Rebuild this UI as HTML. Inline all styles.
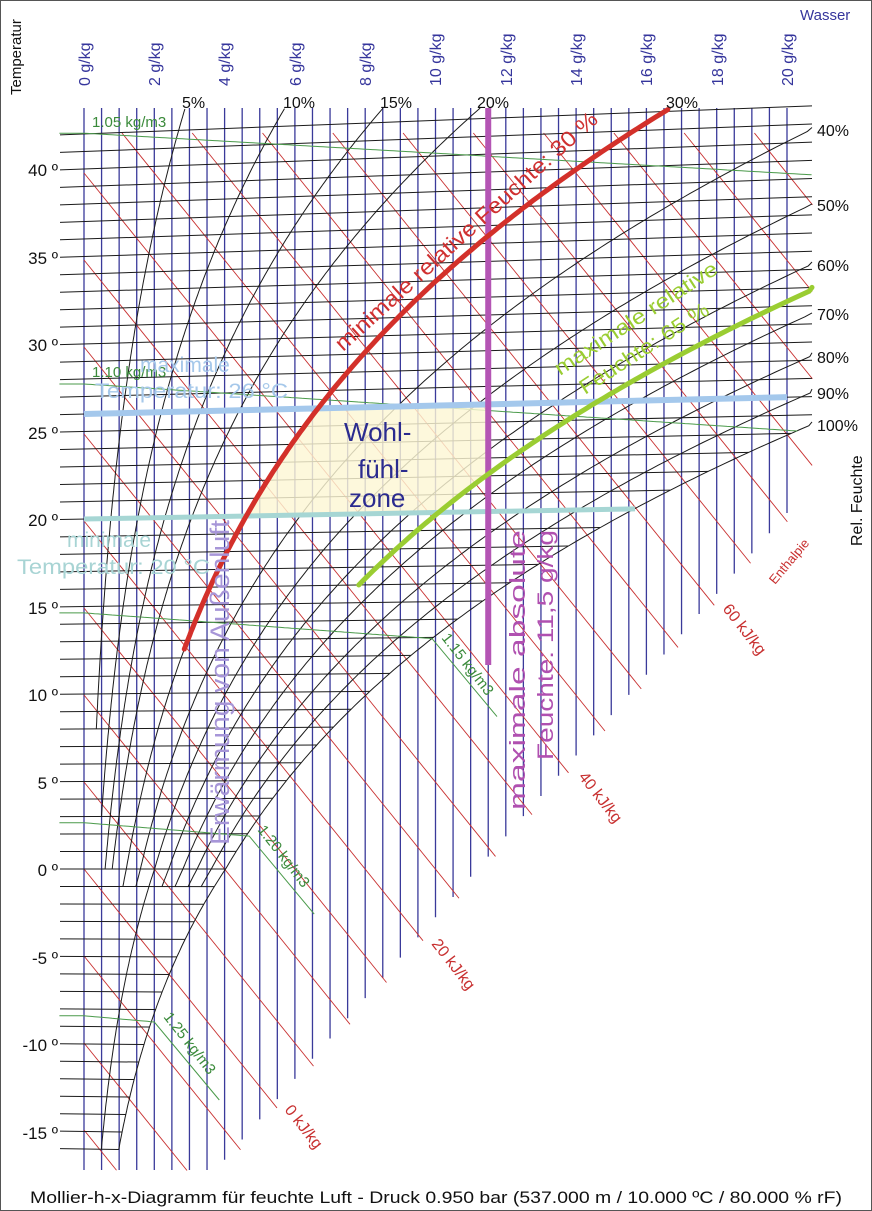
<!DOCTYPE html>
<html><head><meta charset="utf-8"><style>
html,body{margin:0;padding:0;background:#fff;}
svg{display:block;font-family:"Liberation Sans",Arial,sans-serif;}
</style></head><body>
<svg id="s" width="872" height="1211" viewBox="0 0 872 1211" xmlns="http://www.w3.org/2000/svg">
<rect x="0" y="0" width="872" height="1211" fill="#fff"/>
<g id="grid"></g>
<g id="over"></g>
<g font-size="17" fill="#111">
<text x="58" y="176" text-anchor="end">40 º</text>
<text x="58" y="264" text-anchor="end">35 º</text>
<text x="58" y="351" text-anchor="end">30 º</text>
<text x="58" y="439" text-anchor="end">25 º</text>
<text x="58" y="526" text-anchor="end">20 º</text>
<text x="58" y="614" text-anchor="end">15 º</text>
<text x="58" y="701" text-anchor="end">10 º</text>
<text x="58" y="789" text-anchor="end">5 º</text>
<text x="58" y="876" text-anchor="end">0 º</text>
<text x="58" y="964" text-anchor="end">-5 º</text>
<text x="58" y="1051" text-anchor="end">-10 º</text>
<text x="58" y="1139" text-anchor="end">-15 º</text>
</g>
<g font-size="16" fill="#111">
<text transform="translate(21,95) rotate(-90)" font-size="15">Temperatur</text>
<text transform="translate(862,546) rotate(-90)" font-size="16">Rel. Feuchte</text>
<text x="182" y="108">5%</text>
<text x="283" y="108">10%</text>
<text x="380" y="108">15%</text>
<text x="477" y="108">20%</text>
<text x="666" y="108">30%</text>
<text x="817" y="136">40%</text>
<text x="817" y="211">50%</text>
<text x="817" y="271">60%</text>
<text x="817" y="320">70%</text>
<text x="817" y="363">80%</text>
<text x="817" y="399">90%</text>
<text x="817" y="431">100%</text>
<text x="436" y="1203" font-size="17" text-anchor="middle" textLength="812" lengthAdjust="spacingAndGlyphs">Mollier-h-x-Diagramm für feuchte Luft - Druck  0.950 bar (537.000 m / 10.000 ºC / 80.000 % rF)</text>
</g>
<g font-size="16" fill="#35359c">
<text x="800" y="20" font-size="15">Wasser</text>
<text transform="translate(90,86) rotate(-90)">0 g/kg</text>
<text transform="translate(160,86) rotate(-90)">2 g/kg</text>
<text transform="translate(230,86) rotate(-90)">4 g/kg</text>
<text transform="translate(301,86) rotate(-90)">6 g/kg</text>
<text transform="translate(371,86) rotate(-90)">8 g/kg</text>
<text transform="translate(441,86) rotate(-90)">10 g/kg</text>
<text transform="translate(512,86) rotate(-90)">12 g/kg</text>
<text transform="translate(582,86) rotate(-90)">14 g/kg</text>
<text transform="translate(652,86) rotate(-90)">16 g/kg</text>
<text transform="translate(723,86) rotate(-90)">18 g/kg</text>
<text transform="translate(793,86) rotate(-90)">20 g/kg</text>
</g>
<g font-size="15" fill="#3a8a3a">
<text x="92" y="127">1.05 kg/m3</text>
<text x="92" y="377">1.10 kg/m3</text>
<text transform="translate(441,638) rotate(52)">1.15 kg/m3</text>
<text transform="translate(257,830) rotate(52)">1.20 kg/m3</text>
<text transform="translate(163,1017) rotate(52)">1.25 kg/m3</text>
</g>
<g font-size="16" fill="#c83030">
<text transform="translate(284,1110) rotate(52)">0 kJ/kg</text>
<text transform="translate(431,944) rotate(52)">20 kJ/kg</text>
<text transform="translate(578,777) rotate(52)">40 kJ/kg</text>
<text transform="translate(722,609) rotate(52)">60 kJ/kg</text>
<text transform="translate(775,585) rotate(-50)" font-size="13">Enthalpie</text>
</g>
<g id="ovtext">
<text transform="translate(343,352) rotate(-42)" font-size="22" fill="#d03030" textLength="345" lengthAdjust="spacingAndGlyphs">minimale relative Feuchte: 30 %</text>
<text transform="translate(560,376) rotate(-33)" font-size="21" fill="#9acd32" textLength="190" lengthAdjust="spacingAndGlyphs">maximale relative</text>
<text transform="translate(585,395) rotate(-33)" font-size="21" fill="#9acd32" textLength="150" lengthAdjust="spacingAndGlyphs">Feuchte: 65 %</text>
<text x="344" y="441" font-size="26" fill="#2b2b8f">Wohl-</text>
<text x="358" y="478" font-size="26" fill="#2b2b8f">fühl-</text>
<text x="349" y="507" font-size="26" fill="#2b2b8f">zone</text>
<text transform="translate(229,845) rotate(-90)" font-size="27" fill="#a796d8" textLength="325" lengthAdjust="spacingAndGlyphs">Erwärmung von Außenluft</text>
<text transform="translate(525,810) rotate(-90)" font-size="22" fill="#b050b0" textLength="280" lengthAdjust="spacingAndGlyphs">maximale absolute</text>
<text transform="translate(553,760) rotate(-90)" font-size="22" fill="#b050b0" textLength="230" lengthAdjust="spacingAndGlyphs">Feuchte: 11,5 g/kg</text>
<text x="140" y="372" font-size="21" fill="#a6c8ea">maximale</text>
<text x="95" y="398" font-size="21" fill="#a6c8ea" textLength="193" lengthAdjust="spacingAndGlyphs">Temperatur: 26 °C</text>
<text x="67" y="547" font-size="21" fill="#a8d4d4">minimale</text>
<text x="17" y="574" font-size="21" fill="#a8d4d4" textLength="193" lengthAdjust="spacingAndGlyphs">Temperatur: 20 °C</text>
</g>
<rect x="0.5" y="0.5" width="871" height="1210" fill="none" stroke="#555" stroke-width="1"/>
</svg>
<script>
(function(){
var NS="http://www.w3.org/2000/svg";
var grid=document.getElementById("grid"),over=document.getElementById("over");
function X(w){return 84+35.15*w;}
function Wx(x){return (x-84)/35.15;}
function Y(T,w){return 869-17.5*T*(1+0.00185*w);}
function pws(T){return T>=0?6.112*Math.exp(17.62*T/(243.12+T)):6.112*Math.exp(22.46*T/(272.62+T));}
function ws(T,p){var e=p*pws(T);return 622*e/(950-e);}
function el(par,tag,at){var e=document.createElementNS(NS,tag);for(var k in at)e.setAttribute(k,at[k]);par.appendChild(e);return e;}
function poly(par,pts,at){at.points=pts.map(function(p){return p[0].toFixed(1)+","+p[1].toFixed(1);}).join(" ");at.fill=at.fill||"none";return el(par,"polyline",at);}
var gv=el(grid,"g",{stroke:"#3a3a9a","stroke-width":"1.3"});
var gr=el(grid,"g",{stroke:"#c83030","stroke-width":"0.9"});
var gk=el(grid,"g",{stroke:"#1a1a1a","stroke-width":"1"});
var gg=el(grid,"g",{stroke:"#4a9a4a","stroke-width":"1",fill:"none"});
for(var i=0;i<=40;i++){var x=X(i/2);var y2=Math.min(1170,513+(787-x)*1.15);el(gv,"line",{x1:x,y1:108,x2:x,y2:y2});}
function Yh(h,x){return 869-17.4*(h-2.501*Wx(x));}
function B(x){return Math.min(1170,521+(787-x)*1.15);}
for(var h=-20;h<=120;h+=5){
 var xs=84; if(Yh(h,84)<133){xs=84+(133-Yh(h,84))/1.238;}
 var xe=xs; while(xe<812 && Yh(h,xe)<B(xe)) xe+=0.5;
 if(xs>=812) continue;
 var ys=Yh(h,xs), ye=Yh(h,xe);
 if(ys>1170) continue;
 el(gr,"line",{x1:xs,y1:ys,x2:xe,y2:ye});
}
for(var T=-16;T<=42;T++){
 var w2=Math.min(Wx(812),ws(T,1));
 el(gk,"line",{x1:60,y1:Y(T,Wx(60)),x2:X(w2),y2:Y(T,w2)});
}
function rh(phi,T0,T1){var pts=[];for(var T=T0;T<=(T1||46);T+=0.2){var w=ws(T,phi),x=X(w),y=Y(T,w);if(y<107)break;if(x>812){pts.push([812,y]);break;}pts.push([x,y]);}return pts;}
var rl=[[0.05,8],[0.10,3],[0.15,0],[0.20,0],[0.30,-1],[0.40,-1],[0.50,-16],[0.60,-1],[0.70,-1],[0.80,-1],[0.90,-1],[1.0,-16]];
rl.forEach(function(r){poly(gk,rh(r[0],r[1]),{});});
function rhoT(rho,w){var W=w/1000;return 95000/(287.05*rho)*(1+W)/(1+1.6078*W)-273.15;}
[1.05,1.10,1.15,1.20,1.25].forEach(function(rho){
 var pts=[];for(var w=-0.7;w<=21;w+=0.1){var T=rhoT(rho,Math.max(w,0));var x=X(w);if(x>812){break;}if(w>0&&w>ws(T,1)){var x0=x,y0=Y(T,w);pts.push([x0,y0]);if(x0<740)pts.push([x0+65,y0+78]);break;}pts.push([x,Y(T,Math.max(w,0))]);}
 poly(gg,pts,{});
});
var z=[];var wmax=11.5;
function Tfor(phi,w){var lo=-20,hi=50;for(var k=0;k<50;k++){var m=(lo+hi)/2;if(ws(m,phi)<w)lo=m;else hi=m;}return lo;}
var wa=ws(20,0.3),wb=ws(20,0.65),wc=ws(26,0.3);
z.push([X(wa),Y(20,wa)]);z.push([X(wb),Y(20,wb)]);
var Tm=Tfor(0.65,wmax);for(var T=20;T<=Tm;T+=0.2){var w=ws(T,0.65);z.push([X(w),Y(T,w)]);}
z.push([X(wmax),Y(Tm,wmax)]);z.push([X(wmax),Y(26,wmax)]);z.push([X(wc),Y(26,wc)]);
for(var T=26;T>=20;T-=0.2){var w=ws(T,0.3);z.push([X(w),Y(T,w)]);}
el(over,"polygon",{points:z.map(function(p){return p[0].toFixed(1)+","+p[1].toFixed(1);}).join(" "),fill:"#fdf7d4","fill-opacity":"0.82",stroke:"#f0c8a0","stroke-width":"1"});
el(over,"line",{x1:84,y1:Y(26,0),x2:787,y2:Y(26,20),stroke:"#a4c8ec","stroke-width":"6"});
el(over,"line",{x1:84,y1:Y(20,0),x2:635,y2:Y(20,Wx(635)),stroke:"#a6d6d4","stroke-width":"5"});
el(over,"line",{x1:X(wmax),y1:108,x2:X(wmax),y2:665,stroke:"#b455b4","stroke-width":"6"});
poly(over,rh(0.30,12.5,44.5),{stroke:"#d3302a","stroke-width":"5","stroke-linecap":"round"});
poly(over,rh(0.65,16,46),{stroke:"#9acd32","stroke-width":"5","stroke-linecap":"round"});
})();
</script>
</body></html>
